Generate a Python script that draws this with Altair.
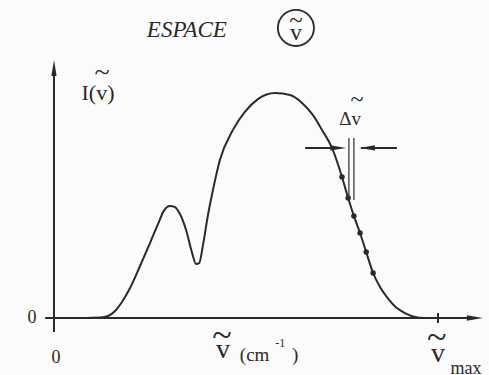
import altair as alt
import pandas as pd

# Spectrum I(nu): wavenumber in units of nu_max (= 100), intensity normalised to the main peak (= 100)
nu = [0, 8.1, 12.0, 14.1, 15.9, 17.7, 19.8, 22.4, 25.0, 27.1, 28.6, 30.2, 31.5, 32.8,
      34.4, 35.9, 37.0, 37.8, 38.8, 40.1, 41.4, 43.2, 46.6, 49.7, 53.1, 57.6, 61.5,
      64.6, 67.2, 69.8, 72.4, 75.0, 76.6, 78.1, 79.7, 81.3, 83.1, 84.9, 86.7, 89.3,
      91.4, 93.5, 96.6, 100]
intensity = [0, 0, 0.2, 0.9, 3.1, 7.1, 13.3, 23.1, 33.3, 41.8, 47.6, 49.8, 49.3, 46.2,
             39.1, 29.3, 24.0, 24.4, 32.4, 45.8, 56.9, 70.2, 83.6, 91.6, 97.3, 100, 99.1,
             95.6, 90.7, 83.6, 75.6, 62.7, 53.3, 45.3, 37.8, 29.3, 20.0, 13.8, 9.3, 4.4,
             2.2, 0.7, 0, 0]

# Sampled points marked along the falling edge
sample_nu = [75.0, 76.6, 78.1, 79.7, 81.3, 83.1]
sample_i = [62.7, 53.3, 45.3, 37.8, 29.3, 20.0]

# Sampling step (delta nu) shown by the double bar and the two arrows
delta_nu = [76.8, 78.1]
delta_level = 75.6

INK = "#2a2a2a"
SERIF = "Liberation Serif"

x_sc = alt.Scale(domain=[-14.06, 113.28], nice=False, zero=False)
y_sc = alt.Scale(domain=[-25.33, 141.33], nice=False, zero=False)


def X(f="x"):
    return alt.X(f"{f}:Q", scale=x_sc, axis=None)


def Y(f="y"):
    return alt.Y(f"{f}:Q", scale=y_sc, axis=None)


spec = pd.DataFrame({"x": nu, "y": intensity})
samples = pd.DataFrame({"x": sample_nu, "y": sample_i})

curve = alt.Chart(spec).mark_line(color=INK, strokeWidth=2, interpolate="monotone").encode(
    x=X(), y=Y())
dots = alt.Chart(samples).mark_circle(color=INK, size=30, opacity=1).encode(x=X(), y=Y())

# Axes drawn as arrows
hlines = pd.DataFrame({
    "x": [-2.3, 65.4, 80.0],
    "x2": [109.0, 74.0, 89.3],
    "y": [0, delta_level, delta_level],
})
vlines = pd.DataFrame({
    "x": [0, 100, delta_nu[0], delta_nu[1]],
    "y": [-6.2, -2.2, 52.4, 52.4],
    "y2": [110.0, 2.2, 80.0, 80.0],
})
h_rules = alt.Chart(hlines).mark_rule(color=INK, strokeWidth=2).encode(
    x=X(), x2="x2:Q", y=Y())
v_rules = alt.Chart(vlines.iloc[:2]).mark_rule(color=INK, strokeWidth=2).encode(
    x=X(), y=Y(), y2="y2:Q")
thin_rules = alt.Chart(vlines.iloc[2:]).mark_rule(color=INK, strokeWidth=1.2).encode(
    x=X(), y=Y(), y2="y2:Q")

RIGHT = "M-1,-0.33L1,0L-1,0.33Z"
LEFT = "M1,-0.33L-1,0L1,0.33Z"
UP = "M-0.33,1L0,-1L0.33,1Z"
heads = pd.DataFrame({
    "x": [109.6, 0, 74.0, 81.5],
    "y": [0, 111.1, delta_level, delta_level],
    "shape": [RIGHT, UP, RIGHT, LEFT],
})
arrowheads = alt.Chart(heads).mark_point(filled=True, color=INK, opacity=1, size=256,
                                         strokeWidth=0).encode(
    x=X(), y=Y(), shape=alt.Shape("shape:N", scale=None))

# Circle around the space symbol
ring = alt.Chart(pd.DataFrame({"x": [63.0], "y": [128.9]})).mark_point(
    shape="circle", size=1300, color=INK, strokeWidth=1.8, filled=False, opacity=1
).encode(x=X(), y=Y())

# Labels
labels = pd.DataFrame({
    "x": [-5.73, 0.52, 11.46, 63.0, 44.0, 62.8, 100.0, 107.3, 77.1],
    "y": [0, -17.8, 100.0, 126.7, -14.2, -16.4, -16.0, -22.6, 88.4],
    "text": ["0", "0", "I(v)", "v", "v", ")", "v", "max", "\u0394v"],
    "size": [18, 18, 22, 24, 28, 19, 28, 18, 19],
})
text_layer = alt.Chart(labels).mark_text(font=SERIF, color=INK, baseline="middle",
                                         align="center").encode(
    x=X(), y=Y(), text="text:N", size=alt.Size("size:Q", scale=None))

cm = alt.Chart(pd.DataFrame({"x": [48.4], "y": [-16.4], "t": ["(cm"]})).mark_text(
    font=SERIF, color=INK, fontSize=19, align="left", baseline="middle").encode(
    x=X(), y=Y(), text="t:N")
sup = alt.Chart(pd.DataFrame({"x": [58.9], "y": [-11.3], "t": ["-1"]})).mark_text(
    font=SERIF, color=INK, fontSize=12, align="center", baseline="middle").encode(
    x=X(), y=Y(), text="t:N")

tildes = pd.DataFrame({
    "x": [12.5, 63.0, 43.75, 99.7, 78.9],
    "y": [108.9, 132.6, -8.0, -8.9, 96.9],
    "size": [28, 25, 36, 36, 24],
})
tilde_layer = alt.Chart(tildes).mark_text(text="~", font=SERIF, color=INK,
                                          baseline="middle", align="center").encode(
    x=X(), y=Y(), size=alt.Size("size:Q", scale=None))

title = alt.Chart(pd.DataFrame({"x": [34.6], "y": [128.0], "t": ["ESPACE"]})).mark_text(
    font=SERIF, fontStyle="italic", color=INK, fontSize=23, align="center",
    baseline="middle").encode(x=X(), y=Y(), text="t:N")

chart = alt.layer(
    h_rules, v_rules, thin_rules, arrowheads, curve, dots, ring,
    text_layer, cm, sup, tilde_layer, title
).properties(
    width=489, height=375, padding=0, autosize="none", background="#fbfbfb"
).configure_view(stroke=None)

chart.save("out.html", embed_options={"renderer": "svg", "actions": False})
